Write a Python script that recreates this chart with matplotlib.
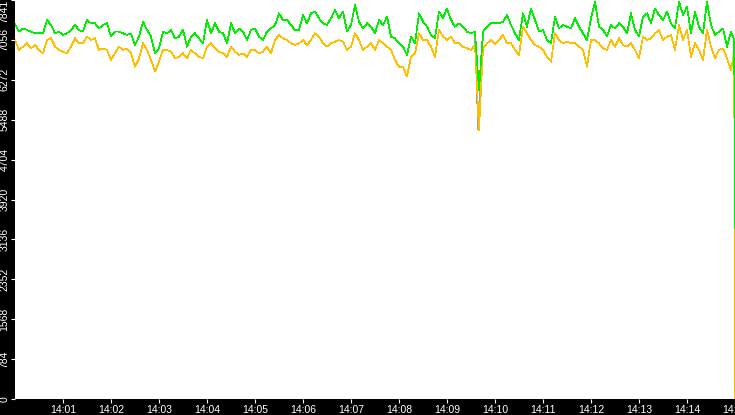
import matplotlib
matplotlib.use("Agg")
import matplotlib.pyplot as plt

# seconds after 14:00:00, one reading every 5 s, plus the last two samples
segundos = list(range(0, 900, 5)) + [899, 900]

serie_verde = [
    7369, 7219, 7284, 7252, 7219, 7186, 7186, 7186, 7448, 7350,
    7186, 7219, 7153, 7186, 7252, 7350, 7252, 7219, 7448, 7383,
    7383, 7284, 7350, 7383, 7121, 7219, 7219, 7186, 7153, 7186,
    6957, 7121, 7415, 7252, 7121, 6793, 6891, 7219, 7186, 7252,
    7088, 7121, 7252, 6924, 7121, 7186, 7088, 6990, 7448, 7186,
    7383, 7219, 7186, 6990, 7383, 7186, 7284, 7219, 7055, 7252,
    7284, 7121, 7055, 7219, 7284, 7350, 7579, 7448, 7448, 7350,
    7252, 7252, 7546, 7383, 7579, 7612, 7481, 7383, 7350, 7481,
    7645, 7481, 7612, 7219, 7350, 7743, 7415, 7284, 7383, 7317,
    7186, 7448, 7350, 7513, 7121, 7088, 6990, 6924, 6760, 7121,
    6990, 7579, 7415, 7317, 7153, 7088, 7612, 7481, 7677, 7448,
    7317, 7383, 7317, 7219, 7186, 7219, 6073, 7219, 7317, 7383,
    7396, 7383, 7415, 7546, 7350, 7186, 7055, 7579, 7317, 7677,
    7448, 7219, 7252, 7055, 6990, 7513, 7284, 7350, 7317, 7284,
    7481, 7317, 7186, 7055, 7481, 7808, 7317, 7252, 7121, 7350,
    7284, 7383, 7317, 7186, 7579, 7252, 7121, 7513, 7579, 7383,
    7677, 7546, 7448, 7612, 7383, 7284, 7808, 7546, 7710, 7186,
    7612, 7317, 7186, 7808, 7350, 7153, 7219, 7284, 6924, 7219,
    7055, 3360,
]

serie_laranja = [
    7055, 6859, 6924, 6990, 6891, 6957, 6859, 6793, 7055, 7088,
    6924, 6859, 6826, 6793, 6924, 7088, 6990, 6990, 7121, 7055,
    7088, 6859, 6891, 6859, 6662, 6793, 6924, 6859, 6891, 6793,
    6531, 6695, 6990, 6859, 6662, 6433, 6629, 6859, 6859, 6826,
    6695, 6727, 6793, 6695, 6859, 6793, 6727, 6695, 6924, 6990,
    6891, 6826, 6793, 6727, 6924, 6826, 6760, 6793, 6727, 6859,
    6859, 6793, 6826, 6924, 6793, 7055, 7153, 7088, 7055, 6990,
    6957, 6990, 7055, 6957, 7055, 7186, 7121, 6990, 6924, 6990,
    7022, 7055, 7022, 6859, 6924, 7186, 7055, 6859, 6924, 6990,
    6859, 7055, 6990, 6924, 6859, 6662, 6531, 6531, 6335, 6727,
    6793, 7186, 7055, 7055, 6924, 6727, 7252, 7121, 7055, 7121,
    6990, 6990, 6924, 6891, 6859, 6957, 5287, 6891, 6990, 7055,
    6977, 7055, 7153, 6990, 6990, 6859, 6760, 7317, 7186, 7055,
    6957, 6924, 6859, 6727, 6629, 7186, 7055, 6990, 7022, 6990,
    6990, 6924, 6859, 6531, 7055, 7055, 6990, 6891, 6859, 7055,
    6924, 7088, 6957, 6924, 6990, 6859, 6695, 7121, 7055, 7088,
    7186, 7252, 7055, 7121, 7153, 6859, 7350, 7055, 7252, 6727,
    6990, 6859, 6662, 7252, 6924, 6695, 6859, 6891, 6695, 6466,
    6793, 0,
]

# third (grey) series, only visible where it drops at ~14:09:40
segundos_cinza = [575, 579, 585]
serie_cinza = [7186, 5300, 7186]

ticks_y = [0, 784, 1568, 2352, 3136, 3920, 4704, 5488, 6272, 7056, 7841]
ticks_x = [60 * m for m in range(1, 16)]
rotulos_x = ["14:%02d" % m for m in range(1, 16)]

fig = plt.figure(figsize=(7.35, 4.15), dpi=100, facecolor="black")
ax = fig.add_axes([15 / 735, 16 / 415, 720 / 735, 399 / 415])
ax.set_facecolor("white")

ax.plot(segundos_cinza, serie_cinza, color="#a0a0a0", lw=0.5, antialiased=False)
ax.plot(segundos, serie_laranja, color="#ffbf00", lw=0.5, antialiased=False)
ax.plot(segundos, serie_verde, color="#00ee00", lw=0.5, antialiased=False)

ax.set_xlim(0, 900)
ax.set_ylim(0, 7841)
for s in ax.spines.values():
    s.set_visible(False)

ax.set_yticks(ticks_y)
ax.set_yticklabels([str(v) for v in ticks_y], rotation=90, va="center",
                   fontfamily="Liberation Sans", fontsize=7.5, color="white")
# top label sits just below its tick so it stays inside the picture
ax.get_yticklabels()[-1].set_va("top")
ax.set_xticks(ticks_x)
ax.set_xticklabels(rotulos_x, fontfamily="Liberation Sans", fontsize=7.5, color="white")
ax.tick_params(axis="both", colors="white", length=3, width=0.8, pad=1)

fig.savefig("out.png", dpi=100, facecolor="black")
